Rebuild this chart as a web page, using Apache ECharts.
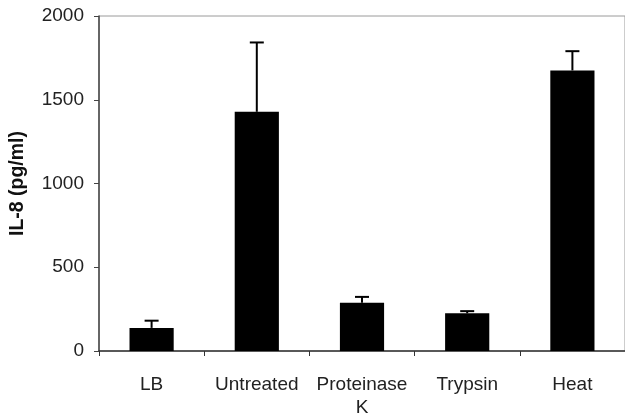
<!DOCTYPE html>
<html>
<head>
<meta charset="utf-8">
<script src="https://cdn.jsdelivr.net/npm/echarts@6/dist/echarts.min.js"></script>
<style>
  html, body { margin: 0; padding: 0; background: #fff; }
  #chart { width: 625px; height: 419px; }
</style>
</head>
<body>
<div id="chart"></div>
<script>
const categories = ['LB', 'Untreated', 'Proteinase\nK', 'Trypsin', 'Heat']
const means = [138, 1428, 288, 225, 1675]
const errTops = [181, 1842, 323, 238, 1790]
const yTicks = [0, 500, 1000, 1500, 2000]

const chart = echarts.init(document.getElementById('chart'))

const errData = categories.map((c, i) => [i, means[i], errTops[i]])

const option = {
  animation: false,
  grid: {
    left: 99,
    top: 16,
    width: 529,
    height: 337,
    show: true,
    borderColor: '#9a9a9a',
    borderWidth: 1
  },
  xAxis: {
    type: 'category',
    data: categories,
    axisLine: { lineStyle: { color: '#333', width: 1.5 } },
    axisTick: { show: true, length: 5, lineStyle: { color: '#333' } },
    axisLabel: {
      color: '#222',
      fontFamily: 'Liberation Sans, Arial, sans-serif',
      fontSize: 19,
      margin: 22,
      lineHeight: 23,
      interval: 0
    }
  },
  yAxis: {
    type: 'value',
    min: yTicks[0],
    max: yTicks[yTicks.length - 1],
    interval: 500,
    name: 'IL-8 (pg/ml)',
    nameLocation: 'middle',
    nameGap: 71,
    nameTextStyle: {
      color: '#111',
      fontFamily: 'Liberation Sans, Arial, sans-serif',
      fontSize: 19.5,
      fontWeight: 'bold'
    },
    axisLine: { show: true, lineStyle: { color: '#444', width: 1.5 } },
    axisTick: { show: true, length: 5, lineStyle: { color: '#444' } },
    axisLabel: {
      color: '#222',
      fontFamily: 'Liberation Sans, Arial, sans-serif',
      fontSize: 19,
      margin: 15,
      formatter: v => String(v)
    },
    splitLine: { show: false }
  },
  series: [
    {
      type: 'bar',
      data: means,
      barWidth: '42%',
      itemStyle: { color: '#000' }
    },
    {
      type: 'custom',
      data: errData,
      z: 3,
      renderItem: function (params, api) {
        const base = api.coord([api.value(0), api.value(1)])
        const top = api.coord([api.value(0), api.value(2)])
        const half = 7
        const style = { stroke: '#000', lineWidth: 2 }
        return {
          type: 'group',
          children: [
            { type: 'line', shape: { x1: base[0], y1: base[1], x2: top[0], y2: top[1] }, style: style },
            { type: 'line', shape: { x1: top[0] - half, y1: top[1], x2: top[0] + half, y2: top[1] }, style: style }
          ]
        }
      }
    }
  ]
}

chart.setOption(option)
</script>
</body>
</html>
